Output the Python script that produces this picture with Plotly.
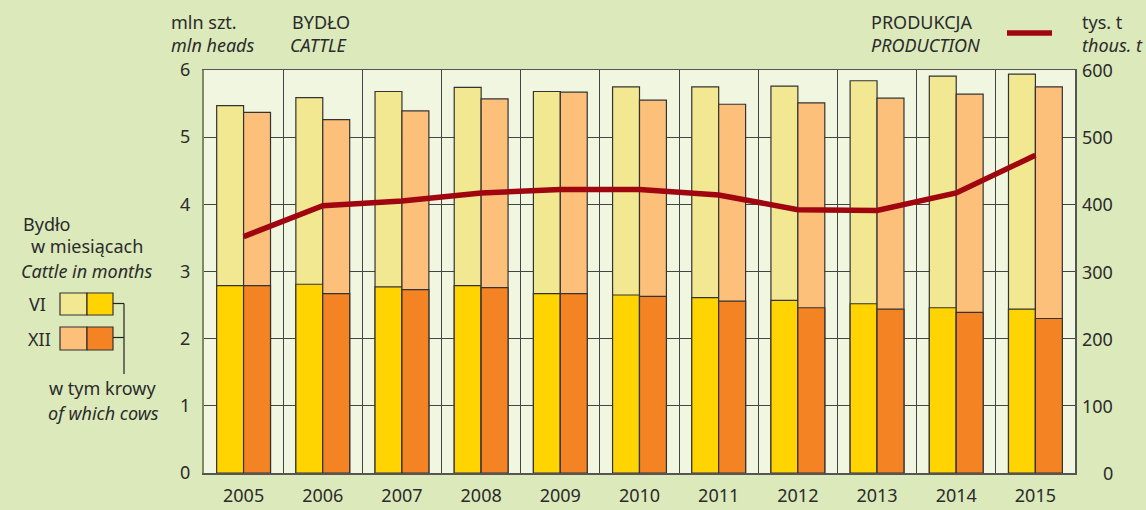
import plotly.graph_objects as go

years = ["2005", "2006", "2007", "2008", "2009", "2010", "2011", "2012", "2013", "2014", "2015"]
cattle_vi = [5.47, 5.59, 5.68, 5.74, 5.68, 5.75, 5.75, 5.76, 5.84, 5.91, 5.94]
cows_vi = [2.79, 2.81, 2.77, 2.79, 2.67, 2.65, 2.61, 2.57, 2.52, 2.46, 2.44]
cattle_xii = [5.37, 5.26, 5.39, 5.57, 5.67, 5.55, 5.49, 5.51, 5.58, 5.64, 5.75]
cows_xii = [2.79, 2.67, 2.73, 2.76, 2.67, 2.63, 2.56, 2.46, 2.44, 2.39, 2.30]
production = [352, 398, 405, 417, 422, 422, 414, 392, 391, 417, 473]
left_ticks = [0, 1, 2, 3, 4, 5, 6]
right_ticks = [0, 100, 200, 300, 400, 500, 600]

FONT = "Noto Sans"
TXT = "#2b2b2b"
C_VI_L, C_VI_D = "#f2e892", "#ffd400"
C_XII_L, C_XII_D = "#fcc07a", "#f48324"
LINE_C = "#a0060f"
OUT = "#333333"

W, H = 1146, 510
L, R, T, B = 204, 1075, 70, 473

xs = list(range(len(years)))
bw = 0.34

fig = go.Figure()

def add_bar(vals, color, offset):
    fig.add_trace(go.Bar(
        x=xs, y=vals, width=bw, offset=offset,
        marker=dict(color=color, line=dict(color=OUT, width=1.2)),
        showlegend=False, hoverinfo="skip"))

add_bar(cattle_vi, C_VI_L, -bw)
add_bar(cows_vi, C_VI_D, -bw)
add_bar(cattle_xii, C_XII_L, 0)
add_bar(cows_xii, C_XII_D, 0)

fig.add_trace(go.Scatter(
    x=xs, y=production, yaxis="y2", mode="lines",
    line=dict(color=LINE_C, width=5.5), showlegend=False, hoverinfo="skip"))

fig.update_layout(
    width=W, height=H,
    margin=dict(l=L, r=W - R, t=T, b=H - B, pad=0, autoexpand=False),
    paper_bgcolor="#dbe9bb",
    plot_bgcolor="#f1f6e0",
    barmode="overlay",
    font=dict(family=FONT, size=18, color=TXT),
    xaxis=dict(
        automargin=False,
        range=[-0.5, len(years) - 0.5],
        tickvals=xs, ticktext=years,
        showgrid=False, zeroline=False,
        showline=True, linecolor="#555555", linewidth=1.5, mirror=True,
        ticks="outside", ticklen=6, tickcolor="rgba(0,0,0,0)",
        tickfont=dict(size=18, color=TXT),
        minor=dict(tickvals=[i + 0.5 for i in xs[:-1]], showgrid=True,
                   gridcolor="#444444", gridwidth=1, ticks=""),
    ),
    yaxis=dict(
        automargin=False,
        range=[0, 6], tickvals=left_ticks,
        showgrid=True, gridcolor="#444444", gridwidth=1,
        zeroline=False,
        showline=True, linecolor="#7d8a66", linewidth=2, mirror=False,
        ticks="outside", ticklen=8, tickcolor="rgba(0,0,0,0)",
        tickfont=dict(size=18, color=TXT),
    ),
    yaxis2=dict(
        automargin=False,
        range=[0, 600], overlaying="y", side="right",
        showgrid=False, zeroline=False,
        showline=True, linecolor="#555555", linewidth=1.5,
        showticklabels=False,
    ),
)

ann = []
def text(px, py, s, italic=False, anchor="left", size=18):
    ann.append(dict(
        x=(px - L) / (R - L), y=(B - py) / (B - T), xref="paper", yref="paper",
        text=("<i>%s</i>" % s) if italic else s, showarrow=False,
        xanchor=anchor, yanchor="middle", font=dict(size=size, color=TXT, family=FONT)))

# right axis tick labels, right-aligned
for v in right_ticks:
    ann.append(dict(
        x=1, xref="paper", y=v, yref="y2", text=str(v), showarrow=False,
        xanchor="right", yanchor="middle", xshift=40,
        font=dict(size=18, color=TXT, family=FONT)))

text(169, 22, "mln szt.")
text(169, 45, "mln heads", italic=True)
text(290, 22, "BYDŁO")
text(288, 45, "CATTLE", italic=True)
text(869, 22, "PRODUKCJA")
text(869, 45, "PRODUCTION", italic=True)
text(1080, 22, "tys. t")
text(1080, 45, "thous. t", italic=True)

text(21, 224, "Bydło")
text(29, 246, "w miesiącach")
text(19, 271, "Cattle in months", italic=True)
text(27, 304, "VI")
text(26, 339, "XII")
text(47, 388, "w tym krowy")
text(46, 413, "of which cows", italic=True)

fig.update_layout(annotations=ann)

def px2p(px, py):
    return (px - L) / (R - L), (B - py) / (B - T)

shapes = []
def rect(x0, y0, x1, y1, color):
    a, b = px2p(x0, y1)
    c, d = px2p(x1, y0)
    shapes.append(dict(type="rect", xref="paper", yref="paper", x0=a, y0=b, x1=c, y1=d,
                       fillcolor=color, line=dict(color=OUT, width=1.2)))

def seg(x0, y0, x1, y1, color, width):
    a, b = px2p(x0, y0)
    c, d = px2p(x1, y1)
    shapes.append(dict(type="line", xref="paper", yref="paper", x0=a, y0=b, x1=c, y1=d,
                       line=dict(color=color, width=width)))

rect(60, 293, 87, 315, C_VI_L)
rect(87, 293, 113, 315, C_VI_D)
rect(60, 327, 87, 350, C_XII_L)
rect(87, 327, 113, 350, C_XII_D)
seg(113, 303.5, 124, 303.5, "#222222", 1.2)
seg(113, 337.5, 124, 337.5, "#222222", 1.2)
seg(124, 303.5, 124, 374, "#222222", 1.2)
seg(1007, 33, 1052, 33, LINE_C, 5.5)

fig.update_layout(shapes=shapes)

fig.write_html("out.html", config={"displayModeBar": False, "staticPlot": True})

with open("out.html", "r", encoding="utf-8") as f:
    html = f.read()
html = html.replace("<head>", "<head><style>html,body{margin:0;padding:0;overflow:hidden;}</style>", 1)
with open("out.html", "w", encoding="utf-8") as f:
    f.write(html)
